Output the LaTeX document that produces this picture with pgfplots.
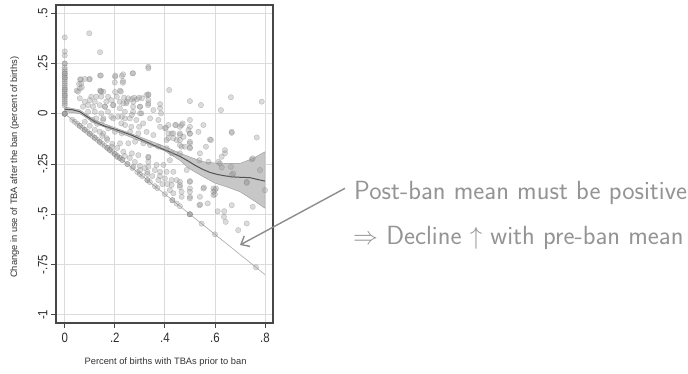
\documentclass[border=0pt]{standalone}
\usepackage{fontspec}
\setmainfont{Liberation Sans}
\newfontfamily\tickfont[FakeStretch=0.85]{Liberation Sans}
\usepackage{pgfplots}
\pgfplotsset{compat=1.18}
\usetikzlibrary{arrows.meta}
\definecolor{mk}{RGB}{155,155,155}
\definecolor{mkd}{RGB}{115,115,115}
\begin{document}
\begin{tikzpicture}
\useasboundingbox (-56pt,-50pt) rectangle (632pt,323pt);
\begin{axis}[
  at={(0pt,0pt)}, anchor=south west,
  scale only axis, width=217pt, height=318pt,
  xmin=-0.035, xmax=0.832, ymin=-1.041, ymax=0.541,
  axis line style={draw=black!72, line width=1.1pt},
  grid=major, grid style={draw=black!14, line width=0.8pt},
  tick align=outside, major tick length=5pt, tick pos=left,
  tick style={draw=black!72, line width=0.8pt},
  xtick={0,0.2,0.4,0.6,0.8}, xticklabels={0,.2,.4,.6,.8},
  ytick={-1,-0.75,-0.5,-0.25,0,0.25,0.5},
  yticklabels={-1,-.75,-.5,-.25,0,.25,.5},
  ticklabel style={font=\tickfont\fontsize{13.5}{15}\selectfont, text=black!82},
  yticklabel style={rotate=90, anchor=south},
  xticklabel style={anchor=north, yshift=-1.5pt},
  xlabel={Percent of births with TBAs prior to ban},
  ylabel={Change in use of TBA after the ban (percent of births)},
  label style={font=\fontsize{9.3}{11}\selectfont, text=black!80},
  xlabel style={at={(axis description cs:0.505,-0.123)}, anchor=center},
  ylabel style={at={(axis description cs:-0.19,0.49)}, anchor=center},
]
% confidence band
\addplot[fill=black!22, draw=black!40, line width=0.4pt] coordinates {
(0,0.034) (0.06,0.019) (0.12,-0.032) (0.2,-0.069) (0.3,-0.115) (0.4,-0.163) (0.46,-0.196) (0.5,-0.215) (0.554,-0.239) (0.6,-0.245) (0.647,-0.247) (0.7,-0.247) (0.753,-0.222) (0.8,-0.189)
(0.8,-0.47) (0.753,-0.43) (0.7,-0.388) (0.647,-0.364) (0.6,-0.345) (0.554,-0.314) (0.5,-0.275) (0.46,-0.232) (0.4,-0.185) (0.3,-0.135) (0.2,-0.085) (0.12,-0.048) (0.06,0.001) (0,0.01)
} -- cycle;
% diagonal
\addplot[black!35, line width=0.6pt] coordinates {(0,0) (0.8,-0.8)};
% scatter
\addplot[only marks, mark=*, mark size=2.7pt, mark options={fill=mk, draw=mkd, line width=0.35pt, fill opacity=0.36, draw opacity=0.42}] coordinates {
(0,0) (0,0) (0,0) (0,0) (0,0.04) (0,0.05) (0,0.06) (0,0.07) (0,0.08) (0,0.09) (0,0.10) (0,0.11) (0,0.12) (0,0.13) (0,0.14) (0,0.15) (0,0.16) (0,0.17) (0,0.18) (0,0.19) (0,0.20) (0,0.21) (0,0.22) (0,0.23) (0,0.25) (0,0.25) (0,0.20) (0,0.18) (0,0.29) (0,0.31) (0,0.38) (0,0.12) (0,0.09)
(0.03,-0.03) (0.04,-0.04) (0.05,-0.05) (0.06,-0.06) (0.07,-0.07) (0.08,-0.08) (0.09,-0.09) (0.10,-0.10) (0.11,-0.11) (0.12,-0.12) (0.13,-0.13) (0.14,-0.14) (0.15,-0.15) (0.16,-0.16) (0.17,-0.17) (0.18,-0.18) (0.19,-0.19) (0.2,-0.2) (0.2,-0.2) (0.21,-0.21) (0.22,-0.22) (0.23,-0.23) (0.25,-0.25) (0.25,-0.25) (0.27,-0.27) (0.29,-0.29) (0.30,-0.30) (0.31,-0.31) (0.33,-0.33) (0.33,-0.33) (0.34,-0.34) (0.36,-0.36) (0.37,-0.37) (0.40,-0.40) (0.43,-0.43) (0.43,-0.43) (0.447,-0.447) (0.46,-0.46) (0.5,-0.5) (0.5,-0.5) (0.5,-0.5) (0.547,-0.547) (0.6,-0.6) (0.764,-0.764)
(0.06,-0.06) (0.08,-0.08) (0.1,-0.1) (0.12,-0.12) (0.14,-0.14) (0.17,-0.17) (0.18,-0.18) (0.22,-0.22) (0.23,-0.23)
(0.098,0.40) (0.141,0.306) (0.141,0.19) (0.334,0.234) (0.334,0.226) (0.271,0.201) (0.201,0.184) (0.228,0.188) (0.232,0.154) (0.061,0.171) (0.065,0.171) (0.098,0.171) (0.057,0.148) (0.048,0.115) (0.068,0.131) (0.141,0.115) (0.145,0.112) (0.154,0.11) (0.201,0.108) (0.221,0.115) (0.208,0.085) (0.237,0.08) (0.288,0.072) (0.308,0.077) (0.334,0.093) (0.334,0.097) (0.334,0.068) (0.417,0.118) (0.5,0.063) (0.544,0.043) (0.664,0.082) (0.624,0.018) (0.787,0.06) (0.667,-0.095) (0.667,-0.09) (0.767,-0.118) (0.5,-0.098) (0.5,-0.1) (0.554,-0.056) (0.58,-0.128) (0.564,-0.164) (0.64,-0.181) (0.64,-0.197) (0.46,-0.065) (0.471,-0.048) (0.444,-0.056) (0.385,0.002) (0.381,0.027) (0.354,0.018) (0.301,0.035) (0.268,0.073) (0.248,0.06) (0.401,-0.073) (0.404,-0.07) (0.414,-0.098) (0.427,-0.098) (0.434,-0.122) (0.407,-0.131) (0.46,-0.106) (0.467,-0.164) (0.427,-0.197) (0.5,-0.147) (0.5,-0.172) (0.54,-0.197) (0.604,-0.372) (0.627,-0.214) (0.62,-0.247) (0.664,-0.264) (0.673,-0.297) (0.727,-0.339) (0.727,-0.344) (0.78,-0.28) (0.747,-0.227) (0.8,-0.38) (0.46,-0.339) (0.427,-0.355) (0.5,-0.339) (0.5,-0.335) (0.5,-0.372) (0.5,-0.388) (0.467,-0.388) (0.554,-0.372) (0.594,-0.372) (0.594,-0.388) (0.594,-0.405) (0.54,-0.413) (0.5,-0.413)
(0.467,-0.413) (0.5,-0.421) (0.538,-0.455) (0.541,-0.452) (0.571,-0.446) (0.556,-0.367) (0.611,-0.485) (0.637,-0.485) (0.636,-0.513) (0.643,-0.538) (0.667,-0.455) (0.693,-0.579) (0.727,-0.546) (0.751,-0.463) (0.434,-0.396)
(0.5,-0.031) (0.5,-0.065) (0.5,-0.139) (0.5,-0.167) (0.534,-0.09) (0.46,-0.131) (0.46,-0.156) (0.538,-0.231) (0.574,-0.239) (0.614,-0.239) (0.627,-0.267) (0.667,-0.305) (0.751,-0.222) (0.4,-0.322) (0.46,-0.364) (0.6,-0.38) (0.6,-0.4) (0.584,-0.131)
(0.08,0.173) (0.1,0.173) (0.144,0.19) (0.202,0.19) (0.233,0.196) (0.273,0.201) (0.233,0.163) (0.2,0.156) (0.066,0.151) (0.06,0.126) (0.053,0.11) (0.144,0.11) (0.106,0.085) (0.126,0.085) (0.146,0.085) (0.173,0.085) (0.224,0.11) (0.253,0.077) (0.277,0.08) (0.297,0.08) (0.326,0.093) (0.333,0.043) (0.3,0.035) (0.273,0.035) (0.246,0.052) (0.22,0.06) (0.06,0.077) (0.08,0.06) (0.1,0.068) (0.12,0.06) (0.166,0.06) (0.186,0.068) (0.073,0.035) (0.093,0.043) (0.113,0.035) (0.14,0.043) (0.16,0.035) (0.193,0.043) (0.22,0.027) (0.24,0.01) (0.273,0.01) (0.306,0.002) (0.093,0.01) (0.12,0.01) (0.146,0.002) (0.173,0.01) (0.186,-0.015) (0.213,-0.015) (0.24,-0.023) (0.26,-0.023) (0.286,-0.031) (0.313,-0.048) (0.297,-0.065) (0.266,-0.065) (0.226,-0.048) (0.153,-0.031) (0.126,-0.023)
(0.161,0.035) (0.194,0.043) (0.234,0.052) (0.274,0.06) (0.334,0.052) (0.381,0.048) (0.154,-0.023) (0.194,-0.023) (0.228,-0.015) (0.268,-0.006) (0.301,0.002) (0.341,-0.023) (0.374,-0.031) (0.381,-0.065) (0.414,-0.056) (0.441,-0.056) (0.467,-0.056) (0.434,-0.098) (0.46,-0.098) (0.414,-0.122) (0.447,-0.131) (0.174,-0.073) (0.2,-0.09) (0.228,-0.098) (0.261,-0.09) (0.294,-0.098) (0.327,-0.09) (0.354,-0.106) (0.221,-0.147) (0.254,-0.147) (0.281,-0.139) (0.314,-0.147) (0.341,-0.156) (0.374,-0.164) (0.407,-0.172) (0.234,-0.189) (0.268,-0.197) (0.294,-0.206) (0.334,-0.214) (0.334,-0.218) (0.334,-0.239) (0.334,-0.264) (0.367,-0.255) (0.394,-0.255) (0.42,-0.231) (0.381,-0.289) (0.407,-0.289) (0.434,-0.289) (0.427,-0.33) (0.447,-0.33) (0.374,-0.33) (0.274,-0.264) (0.301,-0.28) (0.46,-0.197) (0.48,-0.164) (0.474,-0.115) (0.494,-0.081) (0.487,-0.28) (0.46,-0.355) (0.208,-0.214) (0.188,-0.164) (0.168,-0.122) (0.154,-0.098) (0.241,-0.056)
(0.08,-0.04) (0.1,-0.06) (0.12,-0.08) (0.14,-0.09) (0.15,-0.11) (0.17,-0.13) (0.19,-0.15) (0.21,-0.17) (0.13,-0.05) (0.11,-0.03) (0.24,-0.21) (0.26,-0.22) (0.28,-0.24) (0.3,-0.26) (0.32,-0.27) (0.33,-0.29) (0.33,-0.3) (0.36,-0.28) (0.38,-0.31) (0.39,-0.35) (0.42,-0.38) (0.41,-0.35) (0.35,-0.31)
};
% lowess line
\addplot[black!68, line width=1pt] coordinates {
(0,0.022) (0.03,0.02) (0.06,0.01) (0.09,-0.015) (0.12,-0.04) (0.16,-0.062) (0.2,-0.077) (0.23,-0.09) (0.27,-0.108) (0.3,-0.125) (0.34,-0.148) (0.38,-0.17) (0.42,-0.19) (0.46,-0.212) (0.49,-0.233) (0.52,-0.256) (0.55,-0.276) (0.58,-0.292) (0.61,-0.302) (0.64,-0.309) (0.67,-0.314) (0.7,-0.316) (0.74,-0.318) (0.77,-0.327) (0.8,-0.335)
};
\end{axis}
\draw[-{Straight Barb[length=7pt,width=12pt]}, line width=1.4pt, color=black!45] (289pt,134.7pt) -- (184pt,78pt);
\node[anchor=base west, inner sep=0pt, text=black!42, font=\sffamily\fontsize{26.3}{30}\selectfont] at (298pt,123.5pt) {Post-ban mean must be positive};
\node[anchor=base west, inner sep=0pt, text=black!42, font=\sffamily\fontsize{26.3}{30}\selectfont] at (297pt,78.5pt) {$\Rightarrow$ Decline $\uparrow$ with pre-ban mean};
\end{tikzpicture}
\end{document}
